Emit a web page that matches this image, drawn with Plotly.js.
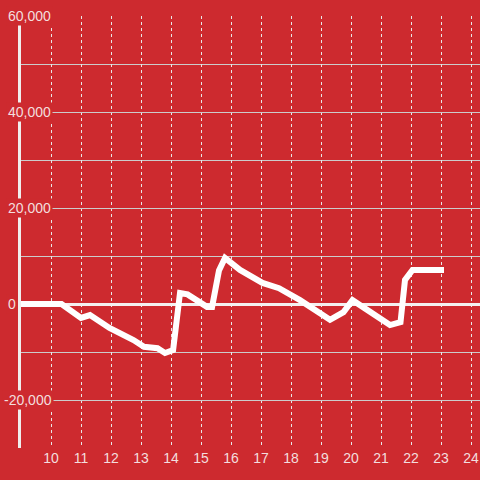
<!DOCTYPE html>
<html>
<head>
<meta charset="utf-8">
<script src="https://cdn.plot.ly/plotly-3.0.1.min.js"></script>
<style>html,body{margin:0;padding:0;background:#cd2a2f;}#chart{width:480px;height:480px;}</style>
</head>
<body>
<div id="chart"></div>
<script>
const xValues = [9, 10.35, 11.0, 11.3, 11.95, 12.3, 12.75, 13.1, 13.55, 13.8, 14.07, 14.3, 14.55, 15.2, 15.37, 15.6, 15.8, 16.3, 16.65, 17.05, 17.6, 18.3, 19.3, 19.75, 20.05, 21.3, 21.65, 21.8, 22.05, 23.1];
const yValues = [0, 0, -2900, -2300, -5000, -6000, -7500, -8900, -9200, -10200, -9600, 2300, 2000, -600, -600, 7000, 9600, 7100, 6000, 4400, 3300, 800, -3300, -1700, 800, -4400, -3800, 5000, 7100, 7100];
const xTickVals = [10, 11, 12, 13, 14, 15, 16, 17, 18, 19, 20, 21, 22, 23, 24];
const yTickVals = [60000, 40000, 20000, 0, -20000];

const bg = '#cd2a2f';
const labelColor = '#f3dede';

const annotations = yTickVals.map(v => ({
  xref: 'paper', yref: 'y', x: v < 0 ? -0.041 : -0.033, y: v,
  xanchor: 'left', yanchor: 'middle',
  text: v.toLocaleString('en-US'),
  showarrow: false, bgcolor: bg, borderpad: 1,
  font: {family: 'Liberation Sans, Arial, sans-serif', size: 14, color: labelColor}
}));

Plotly.newPlot('chart', [{
  x: xValues, y: yValues, type: 'scatter', mode: 'lines',
  line: {color: '#ffffff', width: 6},
  hoverinfo: 'none'
}], {
  width: 480, height: 480,
  paper_bgcolor: bg, plot_bgcolor: bg,
  margin: {l: 21, r: 0, t: 16, b: 32},
  showlegend: false,
  xaxis: {
    range: [9, 24.3], tickvals: xTickVals, ticks: '',
    showgrid: true, gridcolor: '#e8e8e8', griddash: 'dot', gridwidth: 1,
    zeroline: false, showline: false,
    tickfont: {family: 'Liberation Sans, Arial, sans-serif', size: 14, color: labelColor}
  },
  yaxis: {
    range: [-30000, 60000], tick0: 0, dtick: 20000,
    showticklabels: false, ticks: '',
    showgrid: true, gridcolor: '#cccccc', gridwidth: 1,
    minor: {dtick: 10000, showgrid: true, gridcolor: '#cccccc', gridwidth: 1},
    zeroline: true, zerolinecolor: '#f4f0f0', zerolinewidth: 3,
    showline: true, linecolor: '#f0eeee', linewidth: 3
  },
  annotations: annotations
}, {staticPlot: true});
</script>
</body>
</html>
